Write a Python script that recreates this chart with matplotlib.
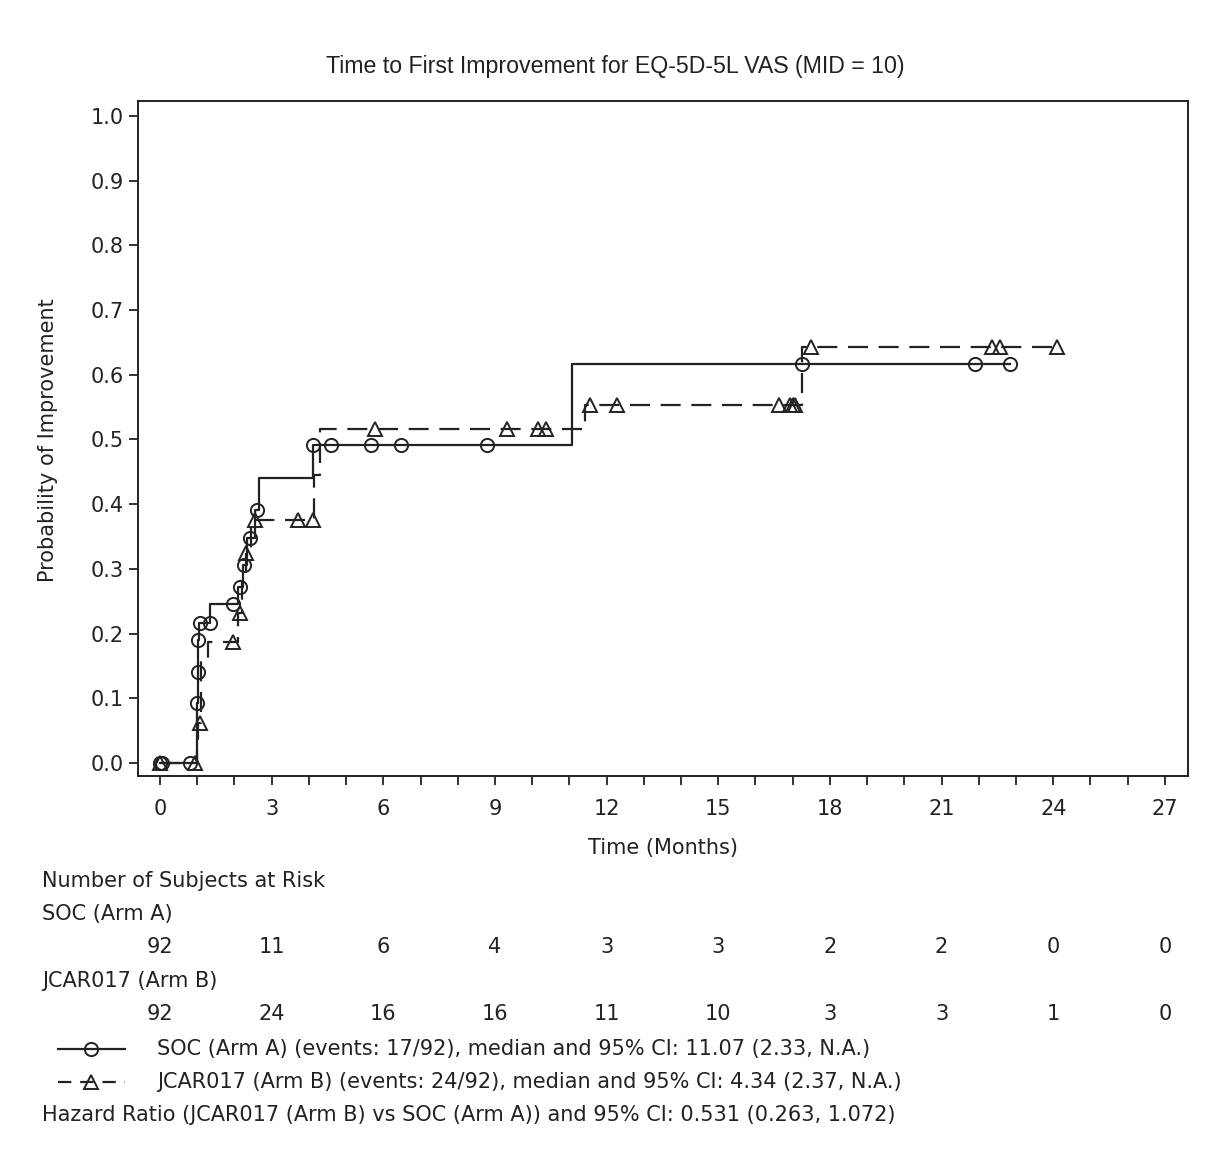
import matplotlib
matplotlib.use("Agg")
import matplotlib.pyplot as plt
import matplotlib.transforms as mtransforms
from matplotlib.lines import Line2D

# SOC (Arm A): event times and cumulative probability after each event
soc_event_t = [1.00, 1.01, 1.02, 1.05, 1.34, 2.10, 2.22, 2.35, 2.55, 2.66, 4.10, 11.07]
soc_event_p = [0.093, 0.140, 0.190, 0.216, 0.246, 0.272, 0.306, 0.348, 0.391, 0.440, 0.491, 0.617]
soc_end = 22.84
# SOC censored marks
soc_cens_t = [0.0, 0.05, 0.80, 1.00, 1.01, 1.03, 1.07, 1.34, 1.96, 2.15, 2.26, 2.42, 2.60,
              4.12, 4.60, 5.67, 6.48, 8.79, 17.25, 21.90, 22.84]
soc_cens_p = [0.0, 0.0, 0.0, 0.093, 0.140, 0.190, 0.216, 0.216, 0.246, 0.272, 0.306, 0.348, 0.391,
              0.491, 0.491, 0.491, 0.491, 0.491, 0.617, 0.617, 0.617]

# JCAR017 (Arm B)
jcar_event_t = [1.00, 1.03, 1.10, 1.29, 2.10, 2.20, 2.30, 2.45, 4.15, 4.30, 11.42, 17.25]
jcar_event_p = [0.030, 0.062, 0.160, 0.187, 0.232, 0.280, 0.325, 0.375, 0.445, 0.516, 0.553, 0.643]
jcar_end = 24.10
jcar_cens_t = [0.0, 0.94, 1.07, 1.96, 2.15, 2.30, 2.55, 3.70, 4.12, 5.78, 9.32, 10.15, 10.37,
               11.55, 12.28, 16.63, 16.93, 17.00, 17.06, 17.50, 22.35, 22.57, 24.10]
jcar_cens_p = [0.0, 0.0, 0.062, 0.187, 0.232, 0.325, 0.375, 0.375, 0.375, 0.516, 0.516, 0.516, 0.516,
               0.553, 0.553, 0.553, 0.553, 0.553, 0.553, 0.643, 0.643, 0.643, 0.643]

# number at risk table
risk_times = [0, 3, 6, 9, 12, 15, 18, 21, 24, 27]
soc_risk = [92, 11, 6, 4, 3, 3, 2, 2, 0, 0]
jcar_risk = [92, 24, 16, 16, 11, 10, 3, 3, 1, 0]

W, H = 1211, 1153
FS = 15
INK = "#222222"
DASH = (9.0, 4.8)

plt.rcParams["font.family"] = "DejaVu Sans"
fig = plt.figure(figsize=(W / 100, H / 100), dpi=100)
ax = fig.add_axes([138 / W, 1 - 776 / H, (1188 - 138) / W, (776 - 101) / H])


def fy(py):
    return 1 - py / H


# step curves
sx = [0] + soc_event_t + [soc_end]
sy = [0] + soc_event_p + [soc_event_p[-1]]
ax.step(sx, sy, where="post", color=INK, lw=1.6)
jx = [0] + jcar_event_t + [jcar_end]
jy = [0] + jcar_event_p + [jcar_event_p[-1]]
ax.step(jx, jy, where="post", color=INK, lw=1.6, linestyle=(0, DASH))

mk = dict(linestyle="none", markerfacecolor="none", markeredgecolor=INK,
          markersize=9.5, markeredgewidth=1.4)
ax.plot(soc_cens_t, soc_cens_p, marker="o", **mk)
ax.plot(jcar_cens_t, jcar_cens_p, marker="^", **mk)

ax.set_xlim(-0.59, 27.62)
ax.set_ylim(-0.02, 1.023)
ax.set_xticks(range(0, 28, 3))
ax.set_xticks(range(0, 28), minor=True)
ax.set_yticks([i / 10 for i in range(11)])
ax.set_yticklabels([f"{i / 10:.1f}" for i in range(11)])
ax.tick_params(axis="both", which="both", direction="out", length=6.5, width=1.3,
               colors=INK, labelsize=FS)
ax.tick_params(axis="x", pad=10)
for s in ax.spines.values():
    s.set_linewidth(1.4)
    s.set_color(INK)

fig.text(615 / W, fy(67), "Time to First Improvement for EQ-5D-5L VAS (MID = 10)",
         family="Liberation Sans", fontsize=16.7, ha="center", va="center", color=INK)
fig.text(663 / W, fy(848), "Time (Months)", fontsize=FS, ha="center", va="center", color=INK)
fig.text(48 / W, fy(440), "Probability of Improvement", fontsize=FS, rotation=90,
         ha="center", va="center", color=INK)

# at-risk table
tr = mtransforms.blended_transform_factory(ax.transData, fig.transFigure)
fig.text(42 / W, fy(881), "Number of Subjects at Risk", fontsize=FS, va="center", color=INK)
fig.text(42 / W, fy(914), "SOC (Arm A)", fontsize=FS, va="center", color=INK)
fig.text(42 / W, fy(981), "JCAR017 (Arm B)", fontsize=FS, va="center", color=INK)
for t, a, b in zip(risk_times, soc_risk, jcar_risk):
    fig.text(t, fy(947), str(a), transform=tr, fontsize=FS, ha="center", va="center", color=INK)
    fig.text(t, fy(1014), str(b), transform=tr, fontsize=FS, ha="center", va="center", color=INK)

# legend
fig.add_artist(Line2D([58 / W, 125 / W], [fy(1049)] * 2, transform=fig.transFigure,
                      color=INK, lw=1.6))
fig.add_artist(Line2D([91 / W], [fy(1049)], transform=fig.transFigure, marker="o", **mk))
fig.add_artist(Line2D([58 / W, 125 / W], [fy(1082)] * 2, transform=fig.transFigure,
                      color=INK, lw=1.6, linestyle=(0, (6, 4))))
fig.add_artist(Line2D([91 / W], [fy(1082)], transform=fig.transFigure, marker="^", **mk))
fig.text(157 / W, fy(1049), "SOC (Arm A) (events: 17/92), median and 95% CI: 11.07 (2.33, N.A.)",
         fontsize=FS, va="center", color=INK)
fig.text(157 / W, fy(1082), "JCAR017 (Arm B) (events: 24/92), median and 95% CI: 4.34 (2.37, N.A.)",
         fontsize=FS, va="center", color=INK)
fig.text(42 / W, fy(1115),
         "Hazard Ratio (JCAR017 (Arm B) vs SOC (Arm A)) and 95% CI: 0.531 (0.263, 1.072)",
         fontsize=FS, va="center", color=INK)

fig.savefig("out.png", dpi=100)
